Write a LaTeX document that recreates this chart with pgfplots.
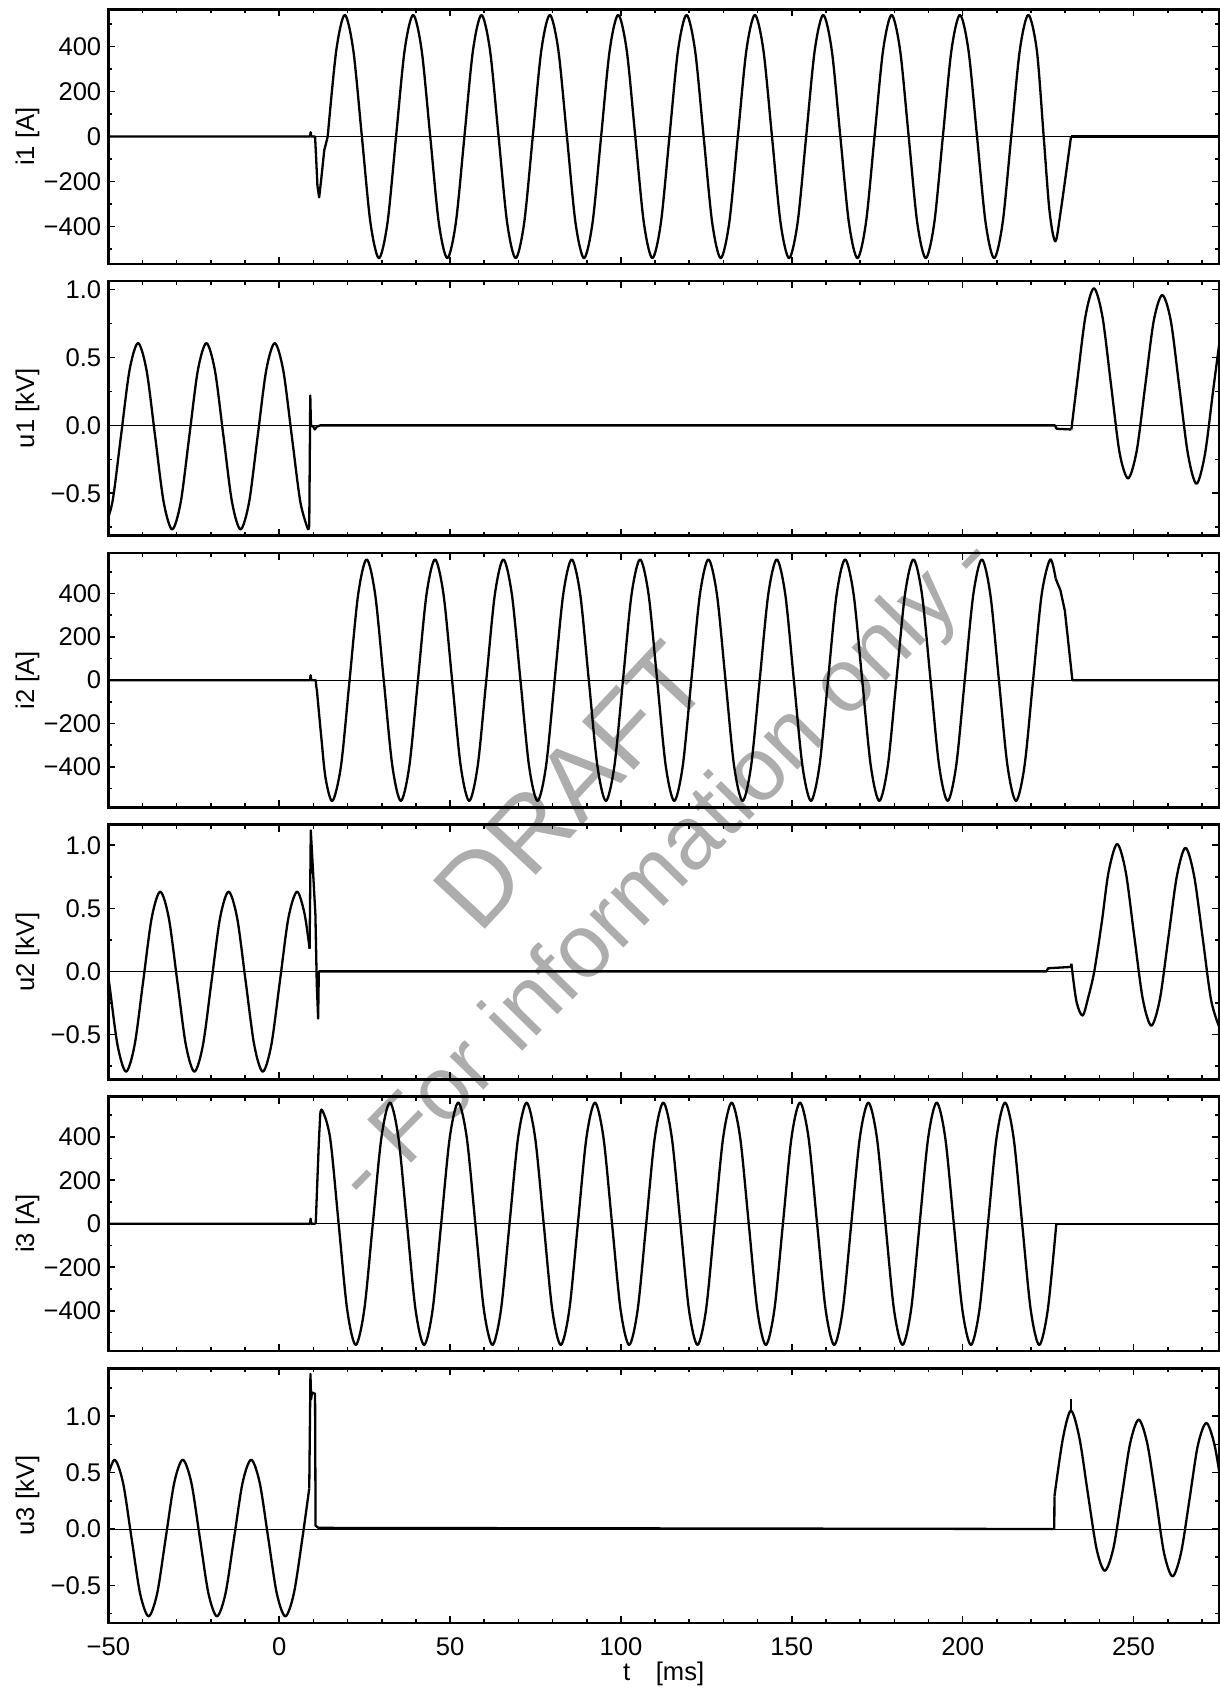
\documentclass[border=0pt]{standalone}
\usepackage{fontspec}
\setmainfont{Liberation Sans}
\usepackage{pgfplots}
\pgfplotsset{compat=1.18}
\pgfplotsset{
  panel/.style={
    scale only axis, width=555.35pt, height=127.25pt,
    xmin=-50, xmax=275,
    xtick={-50,0,50,100,150,200,250},
    minor xtick={-40,-30,-20,-10,10,20,30,40,60,70,80,90,110,120,130,140,160,170,180,190,210,220,230,240,260,270},
    xticklabels={},
    tick pos=both,
    tick align=inside,
    major tick length=3.5pt, minor tick length=2pt,
    every tick/.style={black, line width=0.8pt},
    axis line style={line width=1.3pt},
    tick label style={font=\fontsize{12.8}{14}\selectfont},
    every axis y label/.style={at={(axis description cs:-0.0728,0.5)}, anchor=center, rotate=90, font=\fontsize{12.8}{14}\selectfont},
    anchor=north west,
  },
  ipanel/.style={panel, ytick={-400,-200,0,200,400}, yticklabels={−400,−200,0,200,400}, minor ytick={-500,-300,-100,100,300,500}},
  upanel/.style={panel, ytick={-0.5,0,0.5,1}, yticklabels={−0.5,0.0,0.5,1.0}, minor ytick={-0.75,-0.25,0.25,0.75,1.25}},
  sig/.style={black, line width=1.15pt, line join=round, no marks},
  zl/.style={black, line width=0.5pt, no marks},
}
\begin{document}
\begin{tikzpicture}
% watermark
\node[rotate=47, text=black!32, font=\fontsize{51.5}{60}\selectfont] at (285.5pt,-393pt) {DRAFT};
\node[rotate=45.5, text=black!32, font=\fontsize{44.8}{52}\selectfont] at (333.8pt,-435pt) {- For information only -};

% ---------- i1 ----------
\begin{axis}[ipanel, at={(54.15pt,-4.65pt)}, ymin=-565, ymax=565, ylabel={i1 [A]}]
\addplot[zl] coordinates {(-50,0) (275,0)};
\addplot[sig] coordinates {(-50,0) (9.0,0) (9.2,19) (9.4,0) (10.5,0) (10.8,-90) (11.2,-220) (11.7,-270) (12.3,-190) (13.2,-60) (14.2,0)};
\addplot[sig, smooth] coordinates {
(14.2,0) (16.7,382) (19.2,540) (21.7,382) (24.2,0) (26.7,-382) (29.2,-540) (31.7,-382)
(34.2,0) (36.7,382) (39.2,540) (41.7,382) (44.2,0) (46.7,-382) (49.2,-540) (51.7,-382)
(54.2,0) (56.7,382) (59.2,540) (61.7,382) (64.2,0) (66.7,-382) (69.2,-540) (71.7,-382)
(74.2,0) (76.7,382) (79.2,540) (81.7,382) (84.2,0) (86.7,-382) (89.2,-540) (91.7,-382)
(94.2,0) (96.7,382) (99.2,540) (101.7,382) (104.2,0) (106.7,-382) (109.2,-540) (111.7,-382)
(114.2,0) (116.7,382) (119.2,540) (121.7,382) (124.2,0) (126.7,-382) (129.2,-540) (131.7,-382)
(134.2,0) (136.7,382) (139.2,540) (141.7,382) (144.2,0) (146.7,-382) (149.2,-540) (151.7,-382)
(154.2,0) (156.7,382) (159.2,540) (161.7,382) (164.2,0) (166.7,-382) (169.2,-540) (171.7,-382)
(174.2,0) (176.7,382) (179.2,540) (181.7,382) (184.2,0) (186.7,-382) (189.2,-540) (191.7,-382)
(194.2,0) (196.7,382) (199.2,540) (201.7,382) (204.2,0) (206.7,-382) (209.2,-540) (211.7,-382)
(214.2,0) (216.7,382) (219.2,540) (221.7,382) (223.7,0) (225.4,-330) (227.1,-465) (228.7,-330) (231.7,0)};
\addplot[sig] coordinates {(231.7,0) (275,0)};
\end{axis}

% ---------- u1 ----------
\begin{axis}[upanel, at={(54.15pt,-140.55pt)}, ymin=-0.812, ymax=1.063, ylabel={u1 [kV]}]
\addplot[zl] coordinates {(-50,0) (275,0)};
\addplot[sig, smooth] coordinates {
(-51.3,-0.766) (-48.8,-0.565) (-46.3,-0.08) (-43.8,0.405) (-41.3,0.606) (-38.8,0.405) (-36.3,-0.08) (-33.8,-0.565)
(-31.3,-0.766) (-28.8,-0.565) (-26.3,-0.08) (-23.8,0.405) (-21.3,0.606) (-18.8,0.405) (-16.3,-0.08) (-13.8,-0.565)
(-11.3,-0.766) (-8.8,-0.565) (-6.3,-0.08) (-3.8,0.405) (-1.3,0.606) (1.2,0.405) (3.7,-0.08) (6.2,-0.565) (8.5,-0.77)};
\addplot[sig] coordinates {(8.5,-0.77) (8.8,-0.74) (9.1,0.22) (9.3,0.0) (10.0,-0.01) (10.4,-0.03) (11.0,-0.01) (12.0,0.0) (227.0,0.0) (227.5,-0.025) (231.8,-0.03)};
\addplot[sig, smooth] coordinates {
(231.8,-0.03) (233.4,0.30) (235.9,0.80) (238.4,1.01) (240.9,0.80) (243.4,0.30) (245.9,-0.20) (248.4,-0.39)
(250.9,-0.19) (253.4,0.29) (255.9,0.77) (258.4,0.96) (260.9,0.77) (263.4,0.28) (265.9,-0.21) (268.4,-0.43)
(270.9,-0.21) (273.4,0.28) (275.9,0.76)};
\end{axis}

% ---------- i2 ----------
\begin{axis}[ipanel, at={(54.15pt,-276.45pt)}, ymin=-588, ymax=588, ylabel={i2 [A]}]
\addplot[zl] coordinates {(-50,0) (275,0)};
\addplot[sig] coordinates {(-50,0) (9.0,0) (9.2,23) (9.4,0) (10.7,0) (10.9,-35) (11.0,-40)};
\addplot[sig, smooth] coordinates {
(11.0,-40) (12.3,-260) (13.6,-455) (15.6,-558) (18.1,-395) (20.6,0) (23.1,395) (25.6,558) (28.1,395) (30.6,0) (33.1,-395)
(35.6,-558) (38.1,-395) (40.6,0) (43.1,395) (45.6,558) (48.1,395) (50.6,0) (53.1,-395)
(55.6,-558) (58.1,-395) (60.6,0) (63.1,395) (65.6,558) (68.1,395) (70.6,0) (73.1,-395)
(75.6,-558) (78.1,-395) (80.6,0) (83.1,395) (85.6,558) (88.1,395) (90.6,0) (93.1,-395)
(95.6,-558) (98.1,-395) (100.6,0) (103.1,395) (105.6,558) (108.1,395) (110.6,0) (113.1,-395)
(115.6,-558) (118.1,-395) (120.6,0) (123.1,395) (125.6,558) (128.1,395) (130.6,0) (133.1,-395)
(135.6,-558) (138.1,-395) (140.6,0) (143.1,395) (145.6,558) (148.1,395) (150.6,0) (153.1,-395)
(155.6,-558) (158.1,-395) (160.6,0) (163.1,395) (165.6,558) (168.1,395) (170.6,0) (173.1,-395)
(175.6,-558) (178.1,-395) (180.6,0) (183.1,395) (185.6,558) (188.1,395) (190.6,0) (193.1,-395)
(195.6,-558) (198.1,-395) (200.6,0) (203.1,395) (205.6,558) (208.1,395) (210.6,0) (213.1,-395)
(215.6,-558) (218.1,-395) (220.6,0) (223.1,395) (225.6,558) (227.2,470)};
\addplot[sig] coordinates {(227.2,470) (228.6,415) (229.9,320) (232.1,0) (275,0)};
\end{axis}

% ---------- u2 ----------
\begin{axis}[upanel, at={(54.15pt,-412.35pt)}, ymin=-0.855, ymax=1.163, ylabel={u2 [kV]}]
\addplot[zl] coordinates {(-50,0) (275,0)};
\addplot[sig, smooth] coordinates {
(-52.3,0.424) (-49.8,-0.08) (-47.3,-0.584) (-44.8,-0.795) (-42.3,-0.584) (-39.8,-0.08) (-37.3,0.424) (-34.8,0.632)
(-32.3,0.424) (-29.8,-0.08) (-27.3,-0.584) (-24.8,-0.795) (-22.3,-0.584) (-19.8,-0.08) (-17.3,0.424) (-14.8,0.632)
(-12.3,0.424) (-9.8,-0.08) (-7.3,-0.584) (-4.8,-0.795) (-2.3,-0.584) (0.2,-0.08) (2.7,0.424) (5.2,0.632) (7.4,0.46) (8.9,0.18)};
\addplot[sig] coordinates {(8.9,0.18) (9.25,1.118) (10.6,0.45) (11.0,-0.1) (11.4,-0.374) (11.6,0.0) (224.5,0.0) (225.0,0.025) (231.6,0.035) (231.8,0.06)};
\addplot[sig, smooth] coordinates {
(231.8,0.06) (233.3,-0.24) (235.1,-0.35) (236.7,-0.21) (238.5,0.0) (240.7,0.39) (242.7,0.79) (245.2,1.01)
(247.7,0.79) (250.2,0.28) (252.7,-0.22) (255.2,-0.43) (257.7,-0.22) (260.2,0.27) (262.7,0.76) (265.2,0.98)
(267.7,0.76) (270.2,0.27) (272.7,-0.23) (275.2,-0.45)};
\end{axis}

% ---------- i3 ----------
\begin{axis}[ipanel, at={(54.15pt,-548.25pt)}, ymin=-585, ymax=585, ylabel={i3 [A]}]
\addplot[zl] coordinates {(-50,0) (275,0)};
\addplot[sig] coordinates {(-50,0) (9.0,0) (9.2,23) (9.4,0) (10.7,0)};
\addplot[sig, smooth] coordinates {
(10.7,0) (11.3,250) (11.8,435) (12.4,525) (14.9,395) (17.4,0) (19.9,-395) (22.4,-557) (24.9,-395) (27.4,0) (29.9,395)
(32.4,557) (34.9,395) (37.4,0) (39.9,-395) (42.4,-557) (44.9,-395) (47.4,0) (49.9,395)
(52.4,557) (54.9,395) (57.4,0) (59.9,-395) (62.4,-557) (64.9,-395) (67.4,0) (69.9,395)
(72.4,557) (74.9,395) (77.4,0) (79.9,-395) (82.4,-557) (84.9,-395) (87.4,0) (89.9,395)
(92.4,557) (94.9,395) (97.4,0) (99.9,-395) (102.4,-557) (104.9,-395) (107.4,0) (109.9,395)
(112.4,557) (114.9,395) (117.4,0) (119.9,-395) (122.4,-557) (124.9,-395) (127.4,0) (129.9,395)
(132.4,557) (134.9,395) (137.4,0) (139.9,-395) (142.4,-557) (144.9,-395) (147.4,0) (149.9,395)
(152.4,557) (154.9,395) (157.4,0) (159.9,-395) (162.4,-557) (164.9,-395) (167.4,0) (169.9,395)
(172.4,557) (174.9,395) (177.4,0) (179.9,-395) (182.4,-557) (184.9,-395) (187.4,0) (189.9,395)
(192.4,557) (194.9,395) (197.4,0) (199.9,-395) (202.4,-557) (204.9,-395) (207.4,0) (209.9,395)
(212.4,557) (214.9,395) (217.4,0) (219.9,-395) (222.4,-557) (224.9,-395) (227.4,0)};
\addplot[sig] coordinates {(227.4,0) (275,0)};
\end{axis}

% ---------- u3 ----------
\begin{axis}[upanel, at={(54.15pt,-684.15pt)}, ymin=-0.832, ymax=1.425, ylabel={u3 [kV]},
  xticklabels={−50,0,50,100,150,200,250},
  xticklabel style={anchor=center, yshift=-11.85pt},
  xlabel={t\hspace{1em}[ms]},
  every axis x label/.style={at={(axis description cs:0.5,0)}, anchor=center, yshift=-25.3pt, font=\fontsize{12.8}{14}\selectfont}]
\addplot[zl] coordinates {(-50,0) (275,0)};
\addplot[sig, smooth] coordinates {
(-50.7,0.411) (-48.2,0.614) (-45.7,0.411) (-43.2,-0.08) (-40.7,-0.571) (-38.2,-0.774) (-35.7,-0.571) (-33.2,-0.08)
(-30.7,0.411) (-28.2,0.614) (-25.7,0.411) (-23.2,-0.08) (-20.7,-0.571) (-18.2,-0.774) (-15.7,-0.571) (-13.2,-0.08)
(-10.7,0.411) (-8.2,0.614) (-5.7,0.411) (-3.2,-0.08) (-0.7,-0.571) (1.8,-0.774) (4.3,-0.571) (6.8,-0.08) (8.8,0.36)};
\addplot[sig] coordinates {(8.8,0.36) (9.15,1.375) (9.35,1.15) (9.6,1.21) (10.5,1.2) (10.65,0.03) (11.5,0.01) (226.8,0.0) (226.85,0.29)};
\addplot[sig, smooth] coordinates {
(226.85,0.29) (229.3,0.80) (231.7,1.05) (234.2,0.80) (236.7,0.30) (239.2,-0.18) (241.6,-0.37) (244.1,-0.17)
(246.6,0.30) (249.0,0.76) (251.5,0.97) (254.0,0.76) (256.5,0.28) (258.9,-0.21) (261.4,-0.42) (263.9,-0.21)
(266.4,0.27) (268.8,0.74) (271.3,0.94) (273.8,0.73) (276.3,0.26)};
\addplot[sig] coordinates {(231.6,1.04) (231.6,1.15)};
\end{axis}

\pgfresetboundingbox
\path[use as bounding box] (0pt,0pt) rectangle (610pt,-844pt);
\end{tikzpicture}
\end{document}
